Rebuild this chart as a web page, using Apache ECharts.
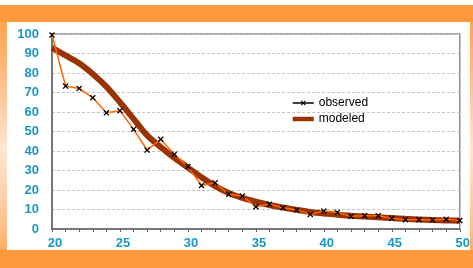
<!DOCTYPE html>
<html>
<head>
    <meta charset="utf-8">
    <title>observed vs modeled</title>
    <style>
        * { margin: 0; padding: 0; }
        body { width: 473px; height: 268px; overflow: hidden; background: #fff; position: relative; }
        #frame {
            position: absolute; left: 0; top: 5px; width: 473px; height: 263px;
            background: linear-gradient(to bottom, #ff9a3c 0%, #ffc89a 35%, #ffe6d2 55%, #ffc08a 85%, #ff9a3c 100%);
        }
        #panel {
            position: absolute; left: 7px; top: 22px; width: 463px; height: 228px; background: #fff;
        }
        #bottom {
            position: absolute; left: 0; top: 250px; width: 473px; height: 18px; background: #ff9a3c;
        }
        #top {
            position: absolute; left: 0; top: 5px; width: 473px; height: 17px; background: #ff9a3c;
        }
        #main { position: absolute; left: 0; top: 0; width: 473px; height: 268px; }
    </style>
    <script src="https://cdn.jsdelivr.net/npm/echarts@6/dist/echarts.min.js"></script>
</head>
<body>
    <div id="frame"></div>
    <div id="panel"></div>
    <div id="top"></div>
    <div id="bottom"></div>
    <div id="main"></div>

    <script type="text/javascript">
        // data
        var xs = [20, 21, 22, 23, 24, 25, 26, 27, 28, 29, 30, 31, 32, 33, 34, 35,
                  36, 37, 38, 39, 40, 41, 42, 43, 44, 45, 46, 47, 48, 49, 50];
        var observed = [99.5, 73.3, 72.1, 67.3, 59.6, 60.7, 51.1, 40.5, 46, 38.3, 32, 22.3, 23.7, 17.8, 16.9, 11.4,
                        12.7, 10.9, 9.8, 7.5, 9.2, 8.5, 6.5, 6.8, 6.8, 5.5, 4.8, 4.8, 4.6, 5.0, 4.3];
        var modeled = [93, 89, 85, 79.5, 73, 65, 56.5, 48, 42, 36.5, 31.5, 26.5, 22, 18.5, 16, 14,
                       12.3, 11, 9.8, 8.7, 8, 7.3, 6.8, 6.4, 6, 5.6, 5.2, 4.9, 4.6, 4.4, 4.2];

        var crossMark = 'path://M0,1.5L1.5,0L5,3.5L8.5,0L10,1.5L6.5,5L10,8.5L8.5,10L5,6.5L1.5,10L0,8.5L3.5,5Z';

        function pairs(vals) {
            return xs.map(function (x, i) { return [x, vals[i]]; });
        }

        var labelStyle = {
            color: '#1a96c8',
            fontFamily: 'Liberation Sans, Arial, sans-serif',
            fontWeight: 'bold',
            fontSize: 13
        };

        var chart = echarts.init(document.getElementById('main'));
        chart.setOption({
            animation: false,
            backgroundColor: 'transparent',
            grid: {
                left: 52, right: 7, top: 34, bottom: 39,
                show: true, borderColor: '#8c8c8c', borderWidth: 1.5, backgroundColor: 'transparent'
            },
            legend: {
                orient: 'vertical',
                left: 287, top: 92,
                itemWidth: 21, itemHeight: 6, itemGap: 4,
                textStyle: { color: '#000', fontFamily: 'Liberation Sans, Arial, sans-serif', fontSize: 12 },
                data: [{
                    name: 'observed',
                    itemStyle: { color: '#000' },
                    lineStyle: { color: '#000', width: 1.5 }
                }, {
                    name: 'modeled',
                    icon: 'path://M0,0L21,0L21,4.5L0,4.5Z',
                    itemStyle: { color: '#993300' }
                }]
            },
            xAxis: {
                type: 'value',
                min: 20, max: 50, interval: 5,
                axisLine: { show: true, lineStyle: { color: '#666', width: 1.5 } },
                axisTick: { show: true, inside: false, length: 3, lineStyle: { color: '#666' } },
                minorTick: { show: true, splitNumber: 5, length: 3, lineStyle: { color: '#666' } },
                splitLine: { show: false },
                axisLabel: Object.assign({ margin: 8, padding: [0, 0, 0, 6] }, labelStyle)
            },
            yAxis: {
                type: 'value',
                min: 0, max: 100, interval: 10,
                axisLine: { show: true, lineStyle: { color: '#666', width: 1.5 } },
                axisTick: { show: false },
                splitLine: { show: true, lineStyle: { color: '#c4c4c4', type: [3, 2], width: 1 } },
                axisLabel: Object.assign({ margin: 13 }, labelStyle)
            },
            series: [{
                name: 'modeled',
                type: 'line',
                data: pairs(modeled),
                smooth: 0.3,
                symbol: 'none',
                z: 2,
                lineStyle: { color: '#993300', width: 6 },
                itemStyle: { color: '#993300' }
            }, {
                name: 'observed',
                type: 'line',
                data: pairs(observed),
                symbol: crossMark,
                symbolSize: 6,
                z: 3,
                lineStyle: { color: '#ff6600', width: 1.5 },
                itemStyle: { color: '#000' }
            }]
        });
    </script>
</body>
</html>
